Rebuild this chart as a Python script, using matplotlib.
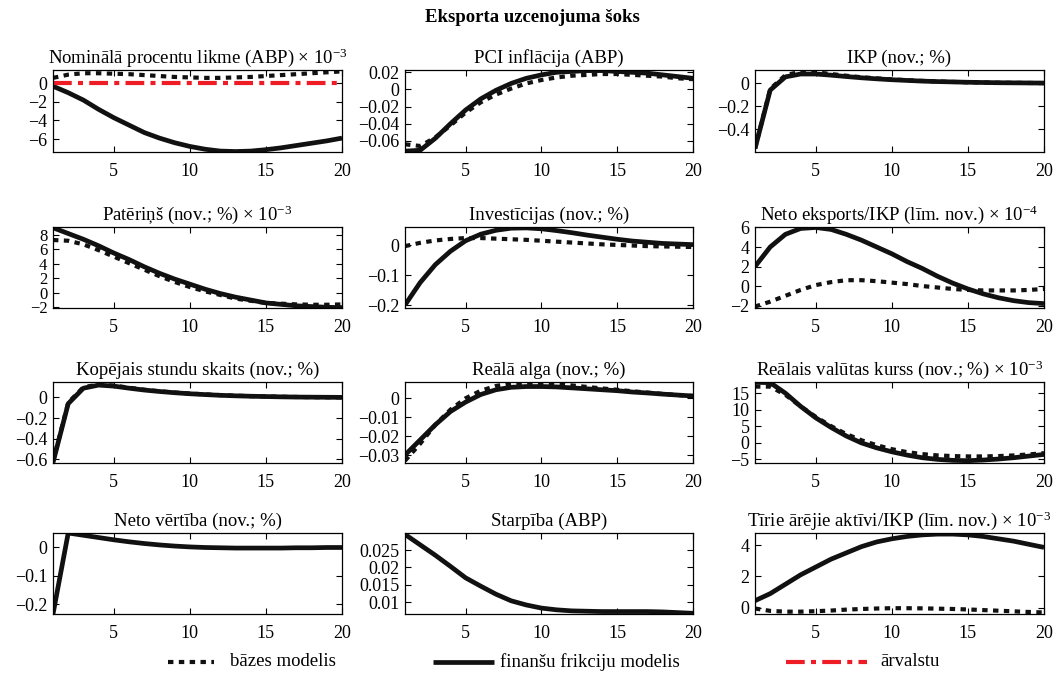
import matplotlib
matplotlib.use("Agg")
import matplotlib.pyplot as plt
from matplotlib.lines import Line2D

plt.rcParams['font.family'] = ['Liberation Serif', 'DejaVu Serif']
plt.rcParams['mathtext.fontset'] = 'custom'
plt.rcParams['mathtext.rm'] = 'Liberation Serif'
plt.rcParams['mathtext.it'] = 'Liberation Serif:italic'

periods = list(range(1, 21))

main_title = "Eksporta uzcenojuma šoks"
titles = [
    r"Nominālā procentu likme (ABP) × 10$^{-3}$",
    "PCI inflācija (ABP)",
    "IKP (nov.; %)",
    r"Patēriņš (nov.; %) × 10$^{-3}$",
    "Investīcijas (nov.; %)",
    r"Neto eksports/IKP (līm. nov.) × 10$^{-4}$",
    "Kopējais stundu skaits (nov.; %)",
    "Reālā alga (nov.; %)",
    r"Reālais valūtas kurss (nov.; %) × 10$^{-3}$",
    "Neto vērtība (nov.; %)",
    "Starpība (ABP)",
    r"Tīrie ārējie aktīvi/IKP (līm. nov.) × 10$^{-3}$",
]
legend_labels = ["bāzes modelis", "finanšu frikciju modelis", "ārvalstu"]

# --- series: base model (dotted) and financial-frictions model (solid) ---
rate_base = [0.6, 0.95, 1.1, 1.1, 1.05, 1.0, 0.9, 0.8, 0.7, 0.65, 0.6, 0.6, 0.65, 0.7, 0.8, 0.9, 1.0, 1.1, 1.2, 1.3]
rate_fin = [-0.3, -1.0, -1.8, -2.8, -3.7, -4.5, -5.3, -5.9, -6.4, -6.8, -7.1, -7.3, -7.35, -7.3, -7.15, -6.95, -6.7, -6.45, -6.2, -5.9]
rate_foreign = [0.0] * 20

infl_base = [-0.064, -0.066, -0.056, -0.042, -0.027, -0.015, -0.006, 0.001, 0.007, 0.011, 0.014, 0.016, 0.017, 0.018, 0.018, 0.017, 0.016, 0.015, 0.013, 0.012]
infl_fin = [-0.072, -0.071, -0.057, -0.040, -0.024, -0.011, -0.001, 0.007, 0.013, 0.017, 0.020, 0.021, 0.022, 0.022, 0.021, 0.020, 0.019, 0.017, 0.015, 0.013]

gdp_base = [-0.57, -0.05, 0.07, 0.10, 0.095, 0.08, 0.065, 0.052, 0.042, 0.033, 0.026, 0.020, 0.015, 0.011, 0.008, 0.006, 0.004, 0.003, 0.002, 0.001]
gdp_fin = [-0.57, -0.06, 0.055, 0.08, 0.08, 0.07, 0.058, 0.047, 0.038, 0.030, 0.024, 0.018, 0.014, 0.011, 0.008, 0.006, 0.004, 0.003, 0.002, 0.001]

cons_base = [7.3, 7.2, 6.7, 5.9, 5.0, 4.1, 3.2, 2.3, 1.5, 0.8, 0.2, -0.3, -0.8, -1.1, -1.4, -1.5, -1.6, -1.65, -1.65, -1.6]
cons_fin = [9.0, 8.2, 7.4, 6.5, 5.5, 4.6, 3.6, 2.7, 1.9, 1.2, 0.5, -0.1, -0.6, -1.0, -1.4, -1.6, -1.8, -1.9, -2.0, -2.05]

inv_base = [-0.003, 0.008, 0.016, 0.021, 0.024, 0.024, 0.022, 0.020, 0.018, 0.015, 0.012, 0.009, 0.006, 0.003, 0.001, -0.001, -0.003, -0.004, -0.005, -0.006]
inv_fin = [-0.20, -0.125, -0.065, -0.02, 0.015, 0.037, 0.050, 0.057, 0.058, 0.055, 0.049, 0.042, 0.034, 0.027, 0.020, 0.014, 0.010, 0.006, 0.004, 0.002]

nx_base = [-2.1, -1.6, -1.0, -0.4, 0.1, 0.4, 0.6, 0.6, 0.5, 0.35, 0.2, 0.0, -0.15, -0.3, -0.4, -0.45, -0.45, -0.45, -0.4, -0.3]
nx_fin = [2.0, 4.0, 5.3, 5.9, 6.0, 5.8, 5.3, 4.7, 4.0, 3.3, 2.5, 1.8, 1.0, 0.3, -0.3, -0.8, -1.2, -1.5, -1.7, -1.8]

hours_base = [-0.62, -0.05, 0.10, 0.125, 0.115, 0.095, 0.075, 0.060, 0.048, 0.038, 0.030, 0.023, 0.017, 0.013, 0.010, 0.007, 0.005, 0.003, 0.002, 0.001]
hours_fin = [-0.63, -0.06, 0.09, 0.12, 0.11, 0.09, 0.072, 0.058, 0.046, 0.036, 0.028, 0.021, 0.016, 0.012, 0.009, 0.006, 0.004, 0.003, 0.002, 0.001]

wage_base = [-0.033, -0.024, -0.014, -0.006, 0.0, 0.004, 0.0065, 0.0078, 0.0082, 0.008, 0.0075, 0.0068, 0.006, 0.0052, 0.0045, 0.0037, 0.003, 0.0023, 0.0017, 0.0012]
wage_fin = [-0.030, -0.022, -0.014, -0.007, -0.002, 0.002, 0.0045, 0.0058, 0.0062, 0.0062, 0.006, 0.0055, 0.005, 0.0045, 0.004, 0.0033, 0.0028, 0.0022, 0.0017, 0.0012]

rer_base = [17.0, 17.0, 14.5, 11.0, 7.8, 5.0, 2.6, 0.7, -0.8, -2.0, -2.9, -3.5, -3.9, -4.1, -4.2, -4.2, -4.1, -3.9, -3.6, -3.2]
rer_fin = [18.3, 18.2, 15.0, 11.0, 7.5, 4.6, 2.0, -0.1, -1.6, -2.8, -3.8, -4.6, -5.1, -5.4, -5.5, -5.3, -5.0, -4.6, -4.1, -3.6]

nw_fin = [-0.235, 0.050, 0.042, 0.034, 0.026, 0.019, 0.013, 0.008, 0.004, 0.001, -0.001, -0.002, -0.003, -0.003, -0.003, -0.003, -0.002, -0.002, -0.001, -0.001]

spread_fin = [0.0295, 0.0265, 0.0235, 0.0203, 0.0170, 0.0146, 0.0123, 0.0104, 0.0092, 0.0083, 0.0078, 0.0075, 0.0074, 0.0073, 0.0073, 0.0073, 0.0073, 0.0072, 0.0070, 0.0068]

nfa_base = [-0.05, -0.2, -0.25, -0.25, -0.22, -0.18, -0.12, -0.08, -0.05, -0.03, -0.03, -0.04, -0.06, -0.08, -0.11, -0.15, -0.19, -0.23, -0.27, -0.3]
nfa_fin = [0.45, 0.9, 1.5, 2.1, 2.6, 3.1, 3.5, 3.9, 4.2, 4.4, 4.55, 4.65, 4.7, 4.7, 4.65, 4.55, 4.4, 4.25, 4.05, 3.85]

base_series = [rate_base, infl_base, gdp_base, cons_base, inv_base, nx_base,
               hours_base, wage_base, rer_base, None, None, nfa_base]
fin_series = [rate_fin, infl_fin, gdp_fin, cons_fin, inv_fin, nx_fin,
              hours_fin, wage_fin, rer_fin, nw_fin, spread_fin, nfa_fin]

ylims = [(-7.4, 1.45), (-0.073, 0.0227), (-0.6, 0.115), (-2.1, 9.1),
         (-0.21, 0.061), (-2.25, 6.05), (-0.635, 0.15), (-0.0342, 0.0086),
         (-6.2, 18.4), (-0.235, 0.05), (0.0066, 0.0299), (-0.4, 4.77)]
yticks = [[-6, -4, -2, 0], [-0.06, -0.04, -0.02, 0, 0.02], [-0.4, -0.2, 0],
          [-2, 0, 2, 4, 6, 8], [-0.2, -0.1, 0], [-2, 0, 2, 4, 6],
          [-0.6, -0.4, -0.2, 0], [-0.03, -0.02, -0.01, 0], [-5, 0, 5, 10, 15],
          [-0.2, -0.1, 0], [0.01, 0.015, 0.02, 0.025], [0, 2, 4]]
xticks = [5, 10, 15, 20]

W, H = 1064, 674
fig = plt.figure(figsize=(W / 100, H / 100), dpi=100)

col_left = [53, 405, 755]
col_w = [289, 288, 289]
row_top = [70, 227, 382, 533]
row_h = [82, 81, 81, 81]

dot_kw = dict(color='#111111', lw=3.0, linestyle=(0, (1.3, 1.3)), dash_capstyle='butt')
sol_kw = dict(color='#111111', lw=3.4, solid_capstyle='butt')
red_kw = dict(color='#ee1c25', lw=3.0, linestyle=(0, (4.5, 1.5, 1.2, 1.5)))

def fmt(v):
    s = ('%g' % v)
    return s.replace('-', '\u2212')

for i in range(12):
    r, c = divmod(i, 3)
    l = col_left[c] / W
    b = 1 - (row_top[r] + row_h[r]) / H
    ax = fig.add_axes([l, b, col_w[c] / W, row_h[r] / H])
    if base_series[i] is not None:
        ax.plot(periods, base_series[i], **dot_kw)
    ax.plot(periods, fin_series[i], **sol_kw)
    if i == 0:
        ax.plot(periods, rate_foreign, **red_kw)
    ax.set_xlim(1, 20)
    ax.set_ylim(*ylims[i])
    ax.set_xticks(xticks)
    ax.set_yticks(yticks[i])
    ax.set_yticklabels([fmt(v) for v in yticks[i]])
    ax.tick_params(direction='in', top=True, right=True, length=4, width=0.8,
                   labelsize=13, pad=4)
    ax.tick_params(axis='x', pad=8)
    if i == 3:
        ax.tick_params(axis='y', labelsize=12)
    for s in ax.spines.values():
        s.set_linewidth(0.9)
    ax.set_title(titles[i], fontsize=13.5, pad=5)

fig.text(0.5, 1 - 17 / H, main_title, ha='center', va='center',
         fontsize=13.5, fontweight='bold')

# legend row
ly = 1 - 662 / H
handles = [((168, 214), dot_kw, 230), ((433, 494), sol_kw, 500), ((786, 867), red_kw, 880)]
for (x0, x1), kw, tx in handles:
    fig.add_artist(Line2D([x0 / W, x1 / W], [ly, ly], transform=fig.transFigure, **kw))
for ((x0, x1), kw, tx), lab in zip(handles, legend_labels):
    fig.text(tx / W, ly, lab, ha='left', va='center', fontsize=13.5)

fig.savefig('out.png', dpi=100)
